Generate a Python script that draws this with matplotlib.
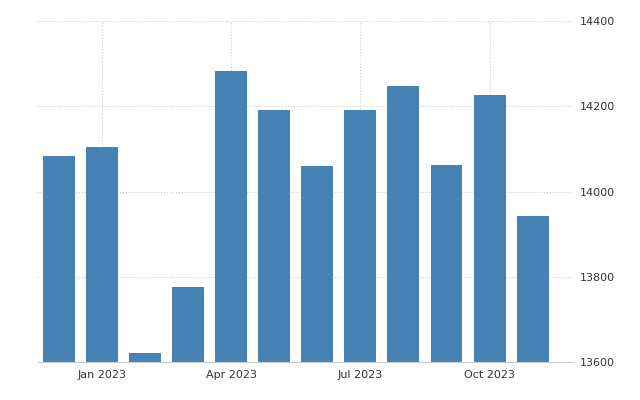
import matplotlib
matplotlib.use("Agg")
import matplotlib.pyplot as plt

months = ["Dec 2022","Jan 2023","Feb 2023","Mar 2023","Apr 2023","May 2023","Jun 2023",
          "Jul 2023","Aug 2023","Sep 2023","Oct 2023","Nov 2023"]
values = [14083, 14104, 13621, 13776, 14283, 14191, 14060, 14191, 14247, 14062, 14226, 13943]
tick_idx = [1, 4, 7, 10]
tick_labels = ["Jan 2023", "Apr 2023", "Jul 2023", "Oct 2023"]
yticks = [13600, 13800, 14000, 14200, 14400]

fig = plt.figure(figsize=(6.4, 4.0), dpi=100)
ax = fig.add_axes([0.058, 0.095, 0.835, 0.8525])
ax.bar(range(len(values)), values, width=0.74, color="#4682b4", zorder=2)
ax.set_xlim(-0.5, 11.9)
ax.set_ylim(13600, 14400)
ax.set_xticks(tick_idx)
ax.set_xticklabels(tick_labels)
ax.set_yticks(yticks)
ax.yaxis.tick_right()
ax.grid(True, color="#cccccc", linestyle=":", linewidth=0.8, zorder=0)
for s in ["top", "left", "right"]:
    ax.spines[s].set_visible(False)
ax.spines["bottom"].set_color("#cccccc")
ax.tick_params(length=0, labelsize=8, colors="#333333", pad=6)
fig.savefig("out.png", dpi=100)
